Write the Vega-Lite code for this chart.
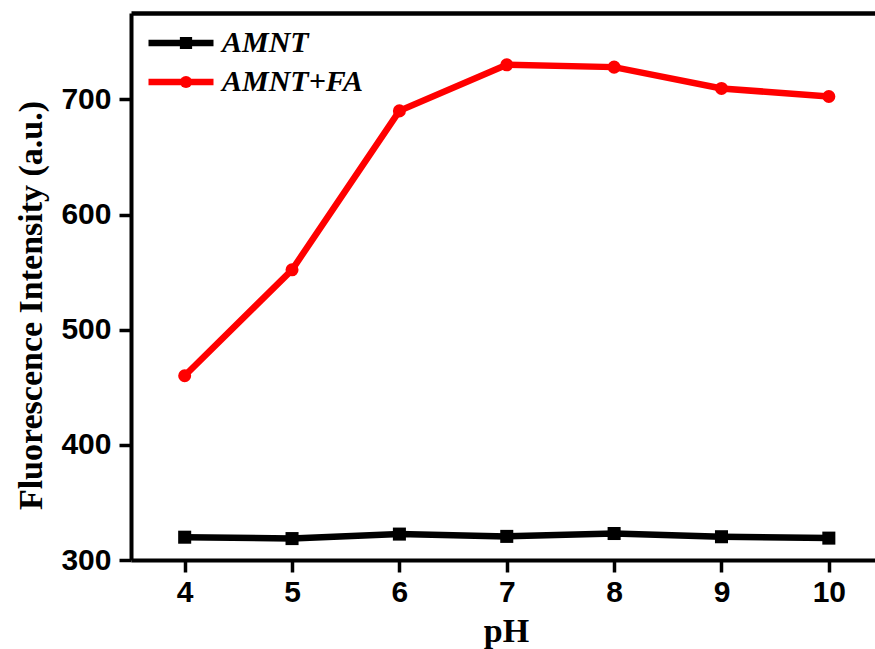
{
  "$schema": "https://vega.github.io/schema/vega-lite/v6.json",
  "width": 744,
  "height": 547,
  "autosize": {"type": "none"},
  "padding": {"left": 131, "top": 13, "right": 0, "bottom": 89},
  "background": "white",
  "config": {
    "view": {"stroke": null},
    "axis": {
      "domainColor": "#000000",
      "domainWidth": 4,
      "tickColor": "#000000",
      "tickWidth": 3.5,
      "tickSize": 12,
      "grid": false,
      "labelColor": "#000000",
      "labelFont": "Liberation Sans",
      "labelFontSize": 30,
      "labelFontWeight": "bold",
      "titleColor": "#000000",
      "titleFont": "Liberation Serif",
      "titleFontSize": 34,
      "titleFontWeight": "bold"
    },
    "legend": {
      "padding": 0,
      "rowPadding": 0,
      "clipHeight": 39,
      "labelFont": "Liberation Serif",
      "labelFontSize": 30,
      "labelFontWeight": "bold",
      "labelFontStyle": "italic",
      "labelColor": "#000000",
      "labelLimit": 400
    }
  },
  "data": {
    "values": [
      {"pH": 4, "intensity": 319.8, "series": "AMNT"},
      {"pH": 5, "intensity": 318.6, "series": "AMNT"},
      {"pH": 6, "intensity": 322.5, "series": "AMNT"},
      {"pH": 7, "intensity": 320.5, "series": "AMNT"},
      {"pH": 8, "intensity": 323, "series": "AMNT"},
      {"pH": 9, "intensity": 320.2, "series": "AMNT"},
      {"pH": 10, "intensity": 319, "series": "AMNT"},
      {"pH": 4, "intensity": 460, "series": "AMNT+FA"},
      {"pH": 5, "intensity": 552, "series": "AMNT+FA"},
      {"pH": 6, "intensity": 690, "series": "AMNT+FA"},
      {"pH": 7, "intensity": 730, "series": "AMNT+FA"},
      {"pH": 8, "intensity": 728, "series": "AMNT+FA"},
      {"pH": 9, "intensity": 709.5, "series": "AMNT+FA"},
      {"pH": 10, "intensity": 702.5, "series": "AMNT+FA"}
    ]
  },
  "layer": [
    {
      "mark": {"type": "line", "strokeWidth": 6.5},
      "encoding": {
        "x": {
          "field": "pH",
          "type": "quantitative",
          "scale": {"domain": [3.5, 10.43], "nice": false, "zero": false},
          "axis": {
            "orient": "bottom",
            "values": [4, 5, 6, 7, 8, 9, 10],
            "domainColor": "#000000",
            "domainWidth": 4,
            "tickColor": "#000000",
            "tickWidth": 3.5,
            "tickSize": 12,
            "labelPadding": 5,
            "title": "pH",
            "titleX": 375,
            "titleY": 81,
            "titleBaseline": "alphabetic",
            "titleAnchor": null
          }
        },
        "y": {
          "field": "intensity",
          "type": "quantitative",
          "scale": {"domain": [300, 775], "nice": false, "zero": false},
          "axis": {
            "values": [300, 400, 500, 600, 700],
            "domainColor": "#000000",
            "domainWidth": 4,
            "tickColor": "#000000",
            "tickWidth": 3.5,
            "tickSize": 12,
            "labelPadding": 8,
            "title": "Fluorescence Intensity (a.u.)",
            "titleX": -100,
            "titleY": 292,
            "titleBaseline": "middle",
            "titleAnchor": null
          }
        },
        "color": {
          "field": "series",
          "type": "nominal",
          "scale": {"domain": ["AMNT", "AMNT+FA"], "range": ["#000000", "#ff0000"]},
          "legend": {
            "title": null,
            "orient": "none",
            "legendX": 14,
            "legendY": 10.5,
            "symbolType": "stroke",
            "symbolSize": 4225,
            "symbolStrokeWidth": 6.5,
            "labelOffset": 5
          }
        }
      }
    },
    {
      "mark": {"type": "point", "filled": true, "opacity": 1, "size": 170},
      "encoding": {
        "x": {
          "field": "pH",
          "type": "quantitative",
          "axis": {
            "orient": "top",
            "labels": false,
            "ticks": false,
            "title": null,
            "domainColor": "#000000",
            "domainWidth": 4.5
          }
        },
        "y": {"field": "intensity", "type": "quantitative"},
        "color": {
          "field": "series",
          "type": "nominal",
          "legend": {
            "title": null,
            "orient": "none",
            "legendX": 40,
            "legendY": 10.5,
            "symbolSize": 150,
            "symbolStrokeWidth": 0,
            "labelExpr": "''"
          }
        },
        "shape": {
          "field": "series",
          "type": "nominal",
          "scale": {"domain": ["AMNT", "AMNT+FA"], "range": ["square", "circle"]},
          "legend": {
            "title": null,
            "orient": "none",
            "legendX": 40,
            "legendY": 10.5,
            "symbolSize": 150,
            "symbolStrokeWidth": 0,
            "labelExpr": "''"
          }
        }
      }
    }
  ],
  "resolve": {
    "axis": {"x": "independent"},
    "legend": {"color": "independent", "shape": "independent"}
  }
}
